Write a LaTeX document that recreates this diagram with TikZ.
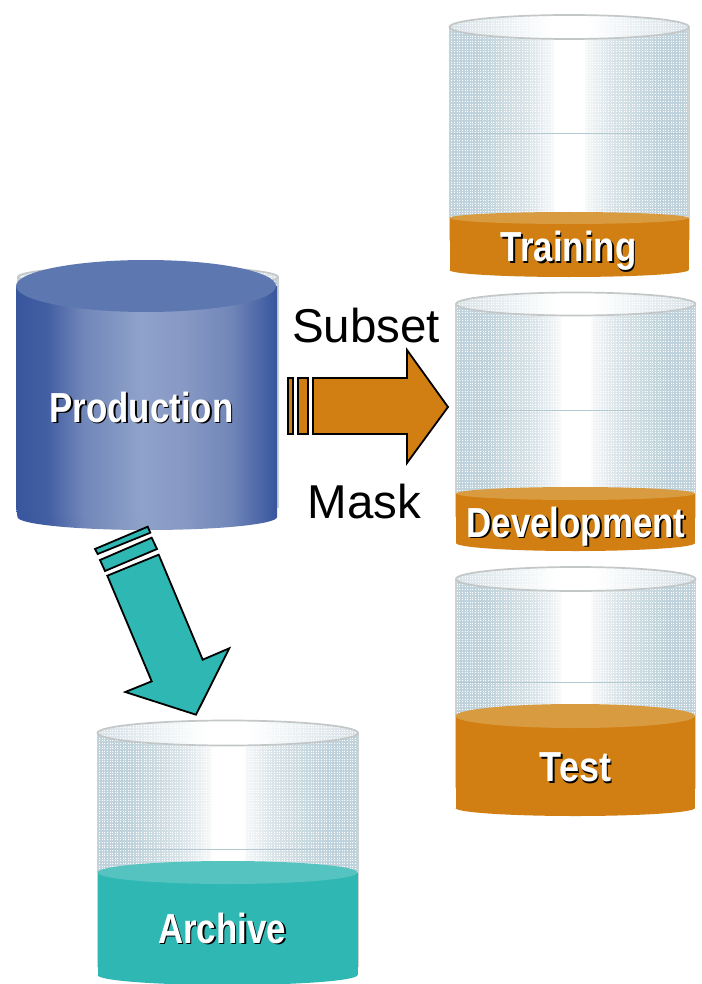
\documentclass[tikz,border=0pt]{standalone}
\usepackage{fontspec}
\usetikzlibrary{patterns}
\setmainfont{Liberation Sans}
\definecolor{orangeliq}{HTML}{D17F12}
\definecolor{orangetop}{HTML}{D99B40}
\definecolor{tealliq}{HTML}{2FB7B3}
\definecolor{tealtop}{HTML}{55C4C0}
\definecolor{rim}{HTML}{C4C7C7}
\definecolor{glassline}{HTML}{B4C8D2}
\definecolor{blueedge}{HTML}{38569E}
\definecolor{bluetop}{HTML}{5D78B0}
\definecolor{glassedge}{HTML}{C0D3DC}
\definecolor{glassa}{HTML}{CCDBE2}
\definecolor{glassmid}{HTML}{DAE4E9}
\definecolor{glasspale}{HTML}{F4F7F8}
\definecolor{lidedge}{HTML}{D8E2E7}
\definecolor{lidmid}{HTML}{E8EFF2}
\definecolor{blueb}{HTML}{435FA3}
\definecolor{bluec}{HTML}{7287B9}
\definecolor{bluelight}{HTML}{8FA2CA}
\definecolor{bluelightb}{HTML}{8799C4}
\pgfdeclarehorizontalshading{glassbody}{100bp}{color(0bp)=(glassedge);
  color(25bp)=(glassedge); color(31bp)=(glassedge); color(36bp)=(glassa); color(41bp)=(glassmid); color(46.5bp)=(glasspale); color(47bp)=(white); color(53bp)=(white); color(53.5bp)=(glasspale); color(59bp)=(glassmid); color(64bp)=(glassa); color(69bp)=(glassedge); color(75bp)=(glassedge); color(100bp)=(glassedge)}
\pgfdeclarehorizontalshading{glasslid}{100bp}{color(0bp)=(lidedge); color(25bp)=(lidedge); color(35bp)=(lidmid); color(46bp)=(white); color(54bp)=(white); color(65bp)=(lidmid); color(75bp)=(lidedge); color(100bp)=(lidedge)}
\pgfdeclarehorizontalshading{bluebody}{100bp}{color(0bp)=(blueedge); color(25bp)=(blueedge); color(31bp)=(blueb); color(38bp)=(bluec); color(49bp)=(bluelight); color(57bp)=(bluelightb); color(66bp)=(bluec); color(75bp)=(blueedge); color(100bp)=(blueedge)}
\pgfdeclarepatternformonly{stipple}{\pgfqpoint{-1bp}{-1bp}}{\pgfqpoint{2.2bp}{2.2bp}}{\pgfqpoint{2.6bp}{2.6bp}}{%
  \pgfpathrectangle{\pgfqpoint{0bp}{0bp}}{\pgfqpoint{1bp}{1bp}}\pgfusepath{fill}}
\tikzset{
  ell top/.style n args={4}{insert path={
    .. controls ({#1},{#3-.5523*(#4)}) and ({(#1+#2)/2-.2761*(#2-#1)},{#3-(#4)}) .. ({(#1+#2)/2},{#3-(#4)})
    .. controls ({(#1+#2)/2+.2761*(#2-#1)},{#3-(#4)}) and ({#2},{#3-.5523*(#4)}) .. ({#2},{#3})}},
  ell bot/.style n args={4}{insert path={
    .. controls ({#2},{#3+.5523*(#4)}) and ({(#1+#2)/2+.2761*(#2-#1)},{#3+(#4)}) .. ({(#1+#2)/2},{#3+(#4)})
    .. controls ({(#1+#2)/2-.2761*(#2-#1)},{#3+(#4)}) and ({#1},{#3+.5523*(#4)}) .. ({#1},{#3})}},
  rimline/.style={draw=rim,line width=1.7pt},
  sideline/.style={draw=rim!80!white,line width=1.2pt},
  stippled/.style={pattern=stipple,pattern color=white},
  blockarrow/.style={draw=black,line width=1.8pt,line join=miter},
  flowlabel/.style={font=\fontsize{47.5}{50}\selectfont,text=black,inner sep=0pt},
  vatlabel/.style={font=\fontsize{42}{42}\selectfont\bfseries,text=white,inner sep=0pt,anchor=base},
  vatshadow/.style={font=\fontsize{42}{42}\selectfont\bfseries,text=black,inner sep=0pt,anchor=base},
}
% glass: xl xr topcentre topry bottom bandy
\newcommand{\glassvat}[6]{%
  \shade[shading=glassbody] (#1,#3) -- (#1,#5) -- (#2,#5) -- (#2,#3) -- cycle;
  \fill[stippled] (#1,#3) -- (#1,#5) -- (#2,#5) -- (#2,#3) -- cycle;
  \draw[glassline,line width=.7pt] (#1,#6) -- (#2,#6);
  \draw[sideline] (#1,#3) -- (#1,#5) (#2,#3) -- (#2,#5);
  \shade[shading=glasslid] (#1,#3) [ell top={#1}{#2}{#3}{#4}] [ell bot={#1}{#2}{#3}{#4}] -- cycle;
  \fill[stippled] (#1,#3) [ell top={#1}{#2}{#3}{#4}] [ell bot={#1}{#2}{#3}{#4}] -- cycle;
  \draw[rimline] (#1,#3) [ell top={#1}{#2}{#3}{#4}] [ell bot={#1}{#2}{#3}{#4}] -- cycle;
}
% liquid: xl xr levelcentre levelry cornery sag body top
\newcommand{\liquid}[8]{%
  \fill[#7] (#1,#3) -- (#1,#5) -- (#2,#5) -- (#2,#3) -- cycle;
  \fill[#7] (#2,#5) [ell bot={#1}{#2}{#5}{#6}] -- cycle;
  \fill[#8] (#1,#3) [ell top={#1}{#2}{#3}{#4}] [ell bot={#1}{#2}{#3}{#4}] -- cycle;
}
\newcommand{\vattext}[5][.83]{%
  \node[vatshadow,xscale=#1] (#2s) at (#3+1.6,#4+1.8) {#5};
  \node[vatlabel,xscale=#1] (#2) at (#3,#4) {#5};
}
\begin{document}
\begin{tikzpicture}[x=1pt,y=-1pt]
\useasboundingbox (0,0) rectangle (701,984);
\fill[white] (0,0) rectangle (701,984);

% Training
\glassvat{449.5}{689}{27}{12}{240}{133}
\liquid{449.5}{688.5}{218}{6}{270}{7}{orangeliq}{orangetop}
\vattext{training}{568.5}{261.5}{Training}

% Development
\glassvat{456}{695.5}{304}{11.5}{517}{410}
\liquid{456}{695}{493.5}{6.5}{543}{8}{orangeliq}{orangetop}
\vattext{development}{576}{537}{Development}

% Test
\glassvat{456}{695.5}{579}{12}{788}{682}
\liquid{455.5}{695}{716}{12}{808}{8}{orangeliq}{orangetop}
\vattext[.86]{test}{575.5}{781.5}{Test}

% Archive
\glassvat{97.5}{358}{733}{12.5}{967}{849}
\liquid{97.5}{357.5}{872.5}{11.5}{975}{10}{tealliq}{tealtop}
\vattext{archive}{222}{943}{Archive}

% Production
\glassvat{18}{278}{277}{11}{508}{412}
\shade[shading=bluebody] (16,286) -- (16,507) -- (17.5,517) -- (277,517) -- (277,286) -- cycle;
\shade[shading=bluebody] (277,517) [ell bot={17.5}{277}{517}{13}] -- cycle;
\fill[bluetop] (16,286) [ell top={16}{276}{286}{26}] [ell bot={16}{276}{286}{26}] -- cycle;
\vattext{production}{141.5}{422}{Production}

% Subset / Mask arrow
\draw[blockarrow,fill=orangeliq] (288,378) rectangle (293,434);
\draw[blockarrow,fill=orangeliq] (298,378) rectangle (308,434);
\draw[blockarrow,fill=orangeliq] (313,378) -- (407,378) -- (407,350) -- (448,407) -- (407,463) -- (407,434) -- (313,434) -- cycle;
\node[flowlabel] (subset) at (366,326) {Subset};
\node[flowlabel] (mask) at (364.5,502) {Mask};

% Archive arrow
\draw[blockarrow,fill=tealliq] (95,549) -- (147.7,526.7) -- (150.3,532.7) -- (97.7,554) -- cycle;
\draw[blockarrow,fill=tealliq] (100,560) -- (151.7,537.7) -- (157,549) -- (105,571) -- cycle;
\draw[blockarrow,fill=tealliq] (107.3,575.7) -- (158.7,554.7) -- (202.7,659.7) -- (229.3,648.3) -- (196,714.7) -- (125.3,692) -- (151.7,681.3) -- cycle;
\end{tikzpicture}
\end{document}
